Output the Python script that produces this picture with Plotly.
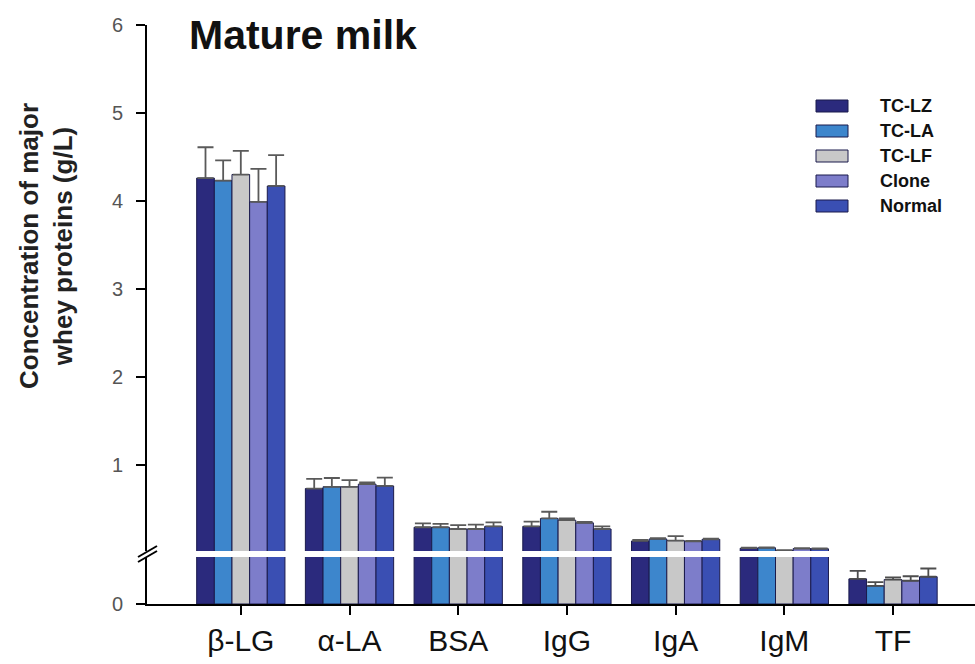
import plotly.graph_objects as go

# Whey protein concentrations in mature milk (g/L), mean values and SD
proteins = ["β-LG", "α-LA", "BSA", "IgG", "IgA", "IgM", "TF"]
groups = ["TC-LZ", "TC-LA", "TC-LF", "Clone", "Normal"]

tc_lz = [4.26, 0.73, 0.29, 0.30, 0.134, 0.052, 0.0107]
tc_la = [4.23, 0.75, 0.29, 0.39, 0.157, 0.057, 0.0077]
tc_lf = [4.30, 0.75, 0.27, 0.37, 0.138, 0.026, 0.0104]
clone = [3.99, 0.78, 0.27, 0.34, 0.130, 0.048, 0.0099]
normal = [4.17, 0.76, 0.30, 0.27, 0.153, 0.045, 0.0116]

tc_lz_sd = [0.35, 0.11, 0.045, 0.054, 0.012, 0.005, 0.0034]
tc_la_sd = [0.23, 0.10, 0.038, 0.076, 0.010, 0.005, 0.0016]
tc_lf_sd = [0.27, 0.076, 0.045, 0.020, 0.050, 0.005, 0.0009]
clone_sd = [0.375, 0.020, 0.050, 0.012, 0.006, 0.005, 0.0019]
normal_sd = [0.35, 0.094, 0.045, 0.030, 0.006, 0.005, 0.0035]

upper_ticks = [1, 2, 3, 4, 5, 6]

series = [tc_lz, tc_la, tc_lf, clone, normal]
errors = [tc_lz_sd, tc_la_sd, tc_lf_sd, clone_sd, normal_sd]
colors = ["#2b2a7d", "#3d86cc", "#c8c8c8", "#7d7dca", "#3a4fb3"]
outline = "#1b1b4c"
FONT = "Liberation Sans, Arial, sans-serif"

# broken value axis: lower segment [0, BREAK], upper segment [BREAK, 6]
BREAK = 0.02

# pixel geometry of the page
W, H = 975, 664
ML, MR, MT, MB = 147, 0, 25, 60
PW, PH = W - ML - MR, H - MT - MB
LOWER_TOP_PX = 557
UPPER_BOTTOM_PX = 551


def py(px):
    """page pixel row -> paper y"""
    return (H - MB - px) / PH


def px_(p):
    """page pixel column -> paper x"""
    return (p - ML) / PW


fig = go.Figure()

for name, vals, errs, col in zip(groups, series, errors, colors):
    bar_style = dict(color=col, line=dict(color=outline, width=1))
    # lower segment: every bar, clipped at the break; SD shown only for bars below it
    low_err = [e if v < BREAK else 0 for v, e in zip(vals, errs)]
    fig.add_trace(go.Bar(
        x=proteins, y=vals, name=name, offsetgroup=name, showlegend=False,
        marker=bar_style, xaxis="x", yaxis="y",
        error_y=dict(type="data", array=low_err, arrayminus=[0] * len(vals),
                     symmetric=False, color="#4d4d4d", thickness=1.8, width=8),
    ))
    # upper segment: only bars reaching past the break
    keep = [i for i, v in enumerate(vals) if v >= BREAK]
    fig.add_trace(go.Bar(
        x=[proteins[i] for i in keep], y=[vals[i] for i in keep],
        name=name, offsetgroup=name, showlegend=False,
        marker=bar_style, xaxis="x", yaxis="y2",
        error_y=dict(type="data", array=[errs[i] for i in keep],
                     arrayminus=[0] * len(keep), symmetric=False,
                     color="#5a5a5a", thickness=1.8, width=8),
    ))

axis_common = dict(
    showline=True, linecolor="black", linewidth=2,
    ticks="outside", ticklen=9, tickwidth=2, tickcolor="black",
    showgrid=False, zeroline=False,
)
ytick_font = dict(size=20, color="#555555", family=FONT)

fig.update_layout(
    width=W, height=H, autosize=False,
    margin=dict(l=ML, r=MR, t=MT, b=MB),
    paper_bgcolor="white", plot_bgcolor="white",
    barmode="group", bargap=0.188, bargroupgap=0,
    font=dict(family=FONT),
    xaxis=dict(
        **axis_common, type="category", anchor="y", domain=[0, 1],
        categoryorder="array", categoryarray=proteins,
        range=[-0.863, 6.754],
        tickfont=dict(size=30, color="#111111", family=FONT),
    ),
    yaxis=dict(
        **axis_common, domain=[0, py(LOWER_TOP_PX)], range=[0, BREAK],
        tickvals=[0], ticktext=["0"], anchor="x",
        tickfont=ytick_font, ticklabelstandoff=9,
    ),
    yaxis2=dict(
        **axis_common, domain=[py(UPPER_BOTTOM_PX), 1], range=[BREAK, 6],
        tickvals=upper_ticks, ticktext=[str(t) for t in upper_ticks], anchor="x",
        tickfont=ytick_font, ticklabelstandoff=9,
    ),
)

# axis-break marks on the value axis
for dy in (0, 5):
    fig.add_shape(type="line", xref="paper", yref="paper",
                  x0=px_(138), y0=py(557 + dy), x1=px_(157), y1=py(546 + dy),
                  line=dict(color="black", width=2))

# panel title
fig.add_annotation(
    text="Mature milk", xref="paper", yref="paper",
    x=px_(187), y=py(35), xanchor="left", yanchor="middle", showarrow=False,
    font=dict(size=41, color="#111111", family=FONT, weight="bold"),
)

# value axis title
fig.add_annotation(
    text="Concentration of major<br>whey proteins (g/L)",
    xref="paper", yref="paper", x=px_(46), y=py(246),
    xanchor="center", yanchor="middle", textangle=-90, showarrow=False,
    font=dict(size=26, color="#222222", family=FONT, weight="bold"),
)

# legend: swatches and labels
LEG_X0, LEG_X1, LEG_TXT = 816, 848, 878
LEG_Y0, LEG_STEP, LEG_H = 106, 25, 12
for k, (name, col) in enumerate(zip(groups, colors)):
    yc = LEG_Y0 + k * LEG_STEP
    fig.add_shape(type="rect", xref="paper", yref="paper",
                  x0=px_(LEG_X0), x1=px_(LEG_X1),
                  y0=py(yc + LEG_H / 2), y1=py(yc - LEG_H / 2),
                  fillcolor=col, line=dict(color=outline, width=1))
    fig.add_annotation(
        text=name, xref="paper", yref="paper", x=px_(LEG_TXT), y=py(yc),
        xanchor="left", yanchor="middle", showarrow=False,
        font=dict(size=18, color="#111111", family=FONT, weight="bold"),
    )

fig.write_html("out.html")
